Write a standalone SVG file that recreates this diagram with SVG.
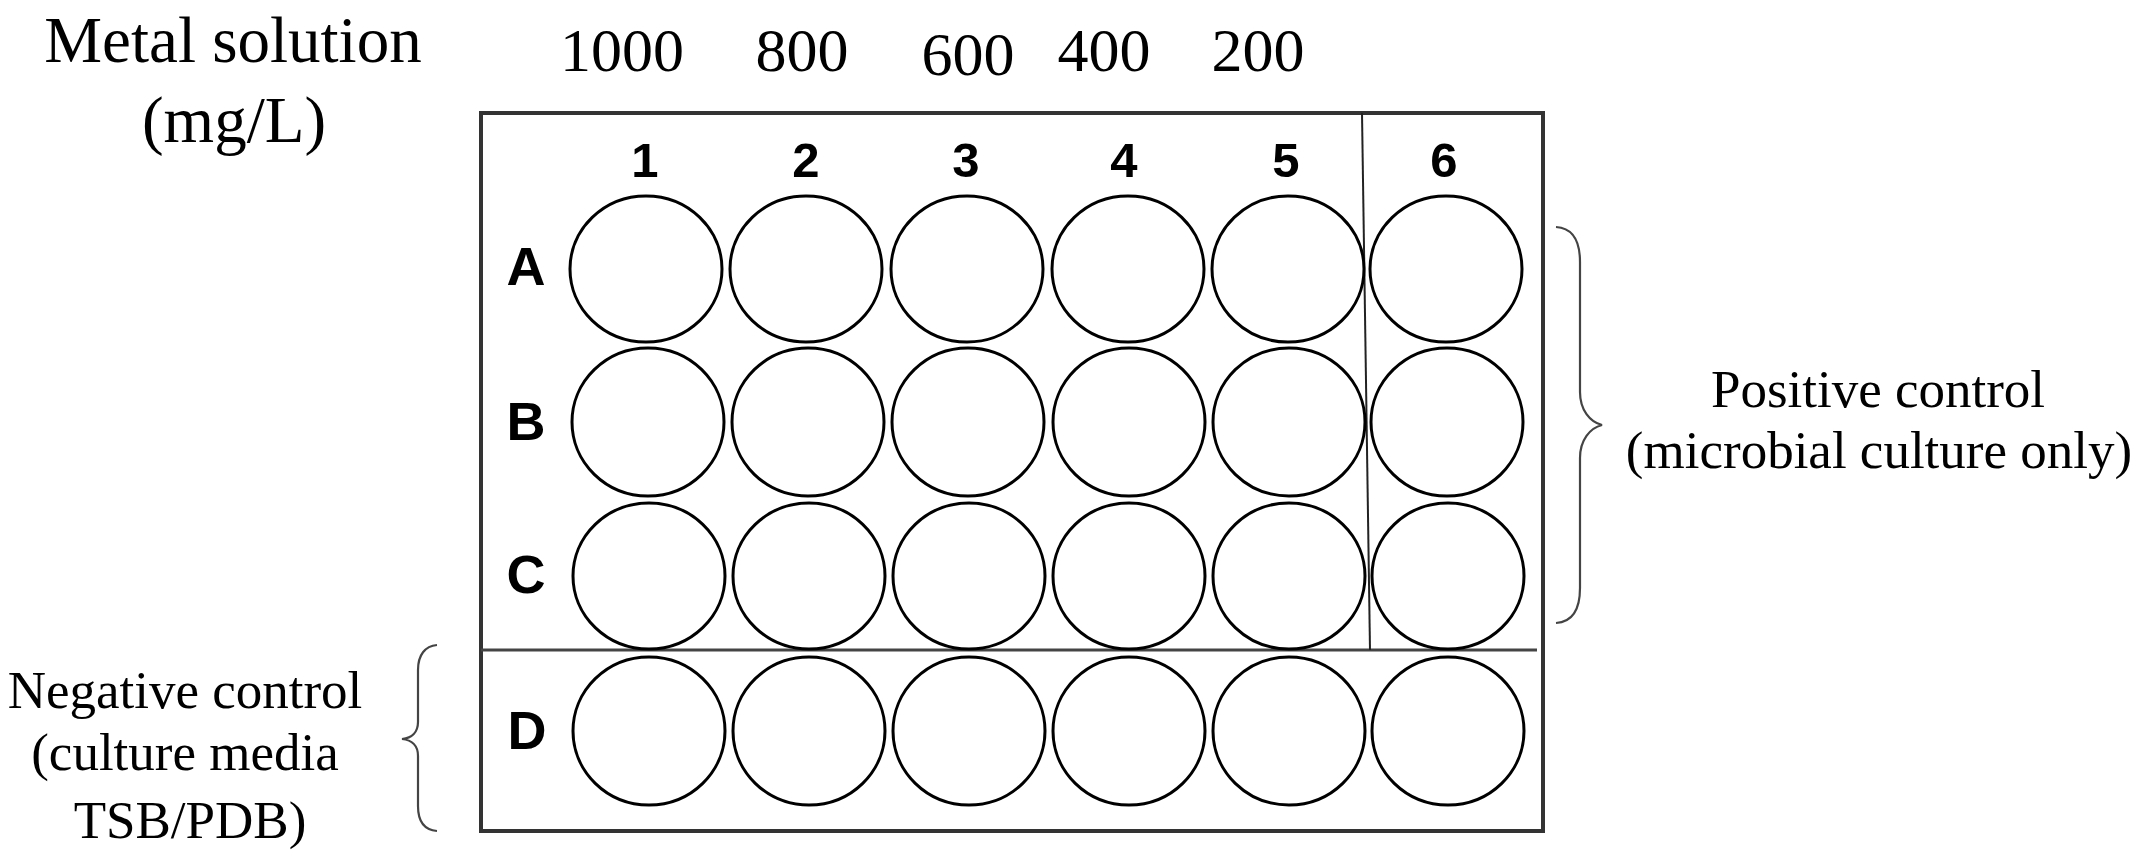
<svg xmlns="http://www.w3.org/2000/svg" width="2139" height="855" viewBox="0 0 2139 855">
<style>
.serif{font-family:"Liberation Serif","Times New Roman",serif;fill:#000;text-anchor:middle}
.sans{font-family:"Liberation Sans",Arial,sans-serif;font-weight:bold;fill:#000;text-anchor:middle}
.well{fill:none;stroke:#000;stroke-width:3}
.brace{fill:none;stroke:#444;stroke-width:2.2}
</style>
<rect width="2139" height="855" fill="#fff"/>
<g id="title">
<text class="serif" x="233" y="62" font-size="65">Metal solution</text>
<text class="serif" x="234" y="142" font-size="65">(mg/L)</text>
</g>
<g id="concentrations" class="serif" font-size="62">
<text x="622" y="71">1000</text>
<text x="802" y="71">800</text>
<text x="968" y="75">600</text>
<text x="1104" y="71">400</text>
<text x="1258" y="71">200</text>
</g>
<g id="plate">
<rect x="481" y="113" width="1062" height="718" fill="none" stroke="#333" stroke-width="4"/>
<line x1="481" y1="650" x2="1537" y2="650" stroke="#444" stroke-width="3"/>
<line x1="1362" y1="113" x2="1370" y2="650" stroke="#222" stroke-width="2"/>
</g>
<g id="column-labels" class="sans" font-size="49">
<text x="645" y="177">1</text>
<text x="806" y="177">2</text>
<text x="966" y="177">3</text>
<text x="1124" y="177">4</text>
<text x="1286" y="177">5</text>
<text x="1444" y="177">6</text>
</g>
<g id="row-labels" class="sans" font-size="54">
<text x="526" y="285">A</text>
<text x="526" y="440">B</text>
<text x="526" y="593">C</text>
<text x="527" y="749">D</text>
</g>
<g id="wells">
<ellipse class="well" cx="646" cy="269" rx="76" ry="73"/>
<ellipse class="well" cx="806" cy="269" rx="76" ry="73"/>
<ellipse class="well" cx="967" cy="269" rx="76" ry="73"/>
<ellipse class="well" cx="1128" cy="269" rx="76" ry="73"/>
<ellipse class="well" cx="1288" cy="269" rx="76" ry="73"/>
<ellipse class="well" cx="1446" cy="269" rx="76" ry="73"/>
<ellipse class="well" cx="648" cy="422" rx="76" ry="74"/>
<ellipse class="well" cx="808" cy="422" rx="76" ry="74"/>
<ellipse class="well" cx="968" cy="422" rx="76" ry="74"/>
<ellipse class="well" cx="1129" cy="422" rx="76" ry="74"/>
<ellipse class="well" cx="1289" cy="422" rx="76" ry="74"/>
<ellipse class="well" cx="1447" cy="422" rx="76" ry="74"/>
<ellipse class="well" cx="649" cy="576" rx="76" ry="73"/>
<ellipse class="well" cx="809" cy="576" rx="76" ry="73"/>
<ellipse class="well" cx="969" cy="576" rx="76" ry="73"/>
<ellipse class="well" cx="1129" cy="576" rx="76" ry="73"/>
<ellipse class="well" cx="1289" cy="576" rx="76" ry="73"/>
<ellipse class="well" cx="1448" cy="576" rx="76" ry="73"/>
<ellipse class="well" cx="649" cy="731" rx="76" ry="74"/>
<ellipse class="well" cx="809" cy="731" rx="76" ry="74"/>
<ellipse class="well" cx="969" cy="731" rx="76" ry="74"/>
<ellipse class="well" cx="1129" cy="731" rx="76" ry="74"/>
<ellipse class="well" cx="1289" cy="731" rx="76" ry="74"/>
<ellipse class="well" cx="1448" cy="731" rx="76" ry="74"/>
</g>
<g id="connectors">
<path class="brace" d="M1556,227 C1572,228 1580,240 1580,262 L1580,392 C1580,410 1590,422 1602,425 C1590,428 1580,440 1580,458 L1580,588 C1580,610 1572,622 1556,623"/>
<path class="brace" d="M437,645 C425,646 418,655 418,670 L418,722 C418,732 412,738 402,739 C412,740 418,746 418,756 L418,806 C418,822 425,830 437,831"/>
</g>
<g id="positive-control">
<text class="serif" x="1878" y="407" font-size="53">Positive control</text>
<text class="serif" x="1879" y="468" font-size="53">(microbial culture only)</text>
</g>
<g id="negative-control">
<text class="serif" x="185" y="708" font-size="53">Negative control</text>
<text class="serif" x="185" y="770" font-size="53">(culture media</text>
<text class="serif" x="190" y="838" font-size="53">TSB/PDB)</text>
</g>
</svg>
